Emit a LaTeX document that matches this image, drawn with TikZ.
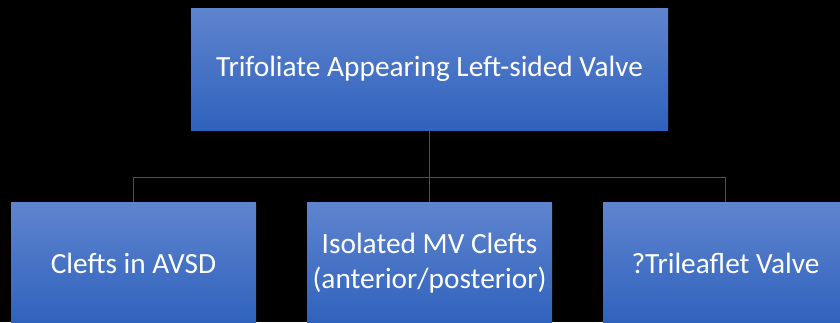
\documentclass[tikz,border=0pt]{standalone}
\usepackage{fontspec}
\setmainfont{Carlito}
\definecolor{boxtop}{RGB}{95,132,206}
\definecolor{boxbottom}{RGB}{47,98,189}
\definecolor{linkcol}{RGB}{58,82,128}
\tikzset{every picture/.style={line width=0.75pt}}
\tikzset{
	valvebox/.style={draw=none, top color=boxtop, bottom color=boxbottom, text=white, align=center, inner sep=0pt, font=\fontsize{22}{26}\selectfont},
	topbox/.style={valvebox, minimum width=357.75pt, minimum height=91.5pt},
	subbox/.style={valvebox, minimum width=183.75pt, minimum height=91.5pt},
	link/.style={draw=linkcol, line width=0.75pt}}

\begin{document}
\begin{tikzpicture}[x=0.75pt,y=0.75pt,yscale=-1,xscale=1]
	%set diagram frame: 840 x 322
	\fill [black] (0,0) rectangle (840,322);
	\useasboundingbox (0,0) rectangle (840,322);
	\clip (0,0) rectangle (840,322);

	% Top box
	\node [topbox] (valve) at (429.5,69) {Trifoliate Appearing Left-sided Valve};
	% Bottom boxes
	\node [subbox] (avsd) at (133.5,263) {Clefts in AVSD};
	\node [subbox] (mvcleft) at (429.5,263) {Isolated MV Clefts\\(anterior/posterior)};
	\node [subbox] (trileaf) at (725.5,263) {?Trileaflet Valve};

	%Connectors
	\coordinate (bus) at (429.5,177);
	\draw [link] (valve.south) -- (bus);
	\draw [link] (bus) -| (avsd.north);
	\draw [link] (bus) -- (mvcleft.north);
	\draw [link] (bus) -| (trileaf.north);

\end{tikzpicture}
\end{document}
